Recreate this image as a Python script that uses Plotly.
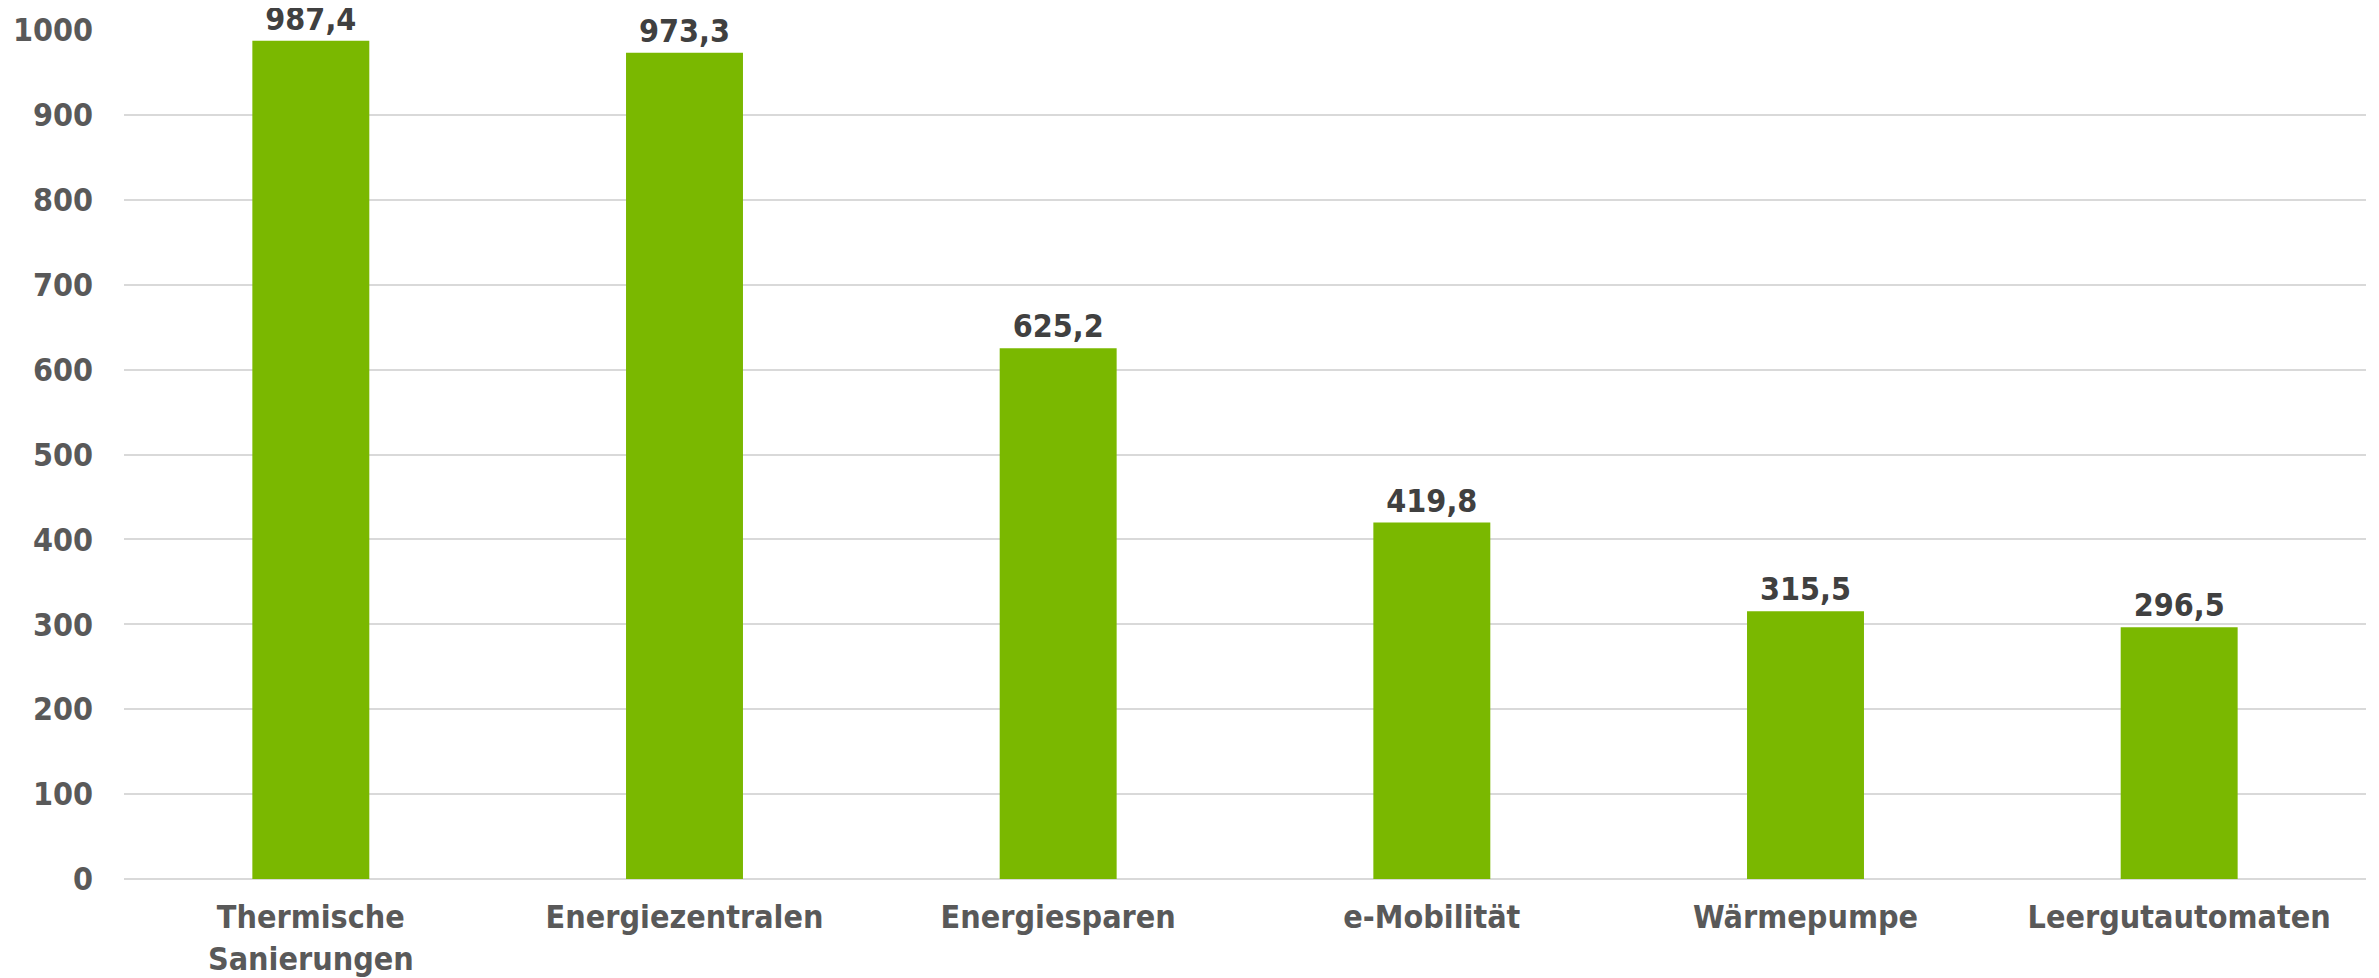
import plotly.graph_objects as go

categories = ["Thermische<br>Sanierungen", "Energiezentralen", "Energiesparen",
              "e-Mobilität", "Wärmepumpe", "Leergutautomaten"]
values = [987.4, 973.3, 625.2, 419.8, 315.5, 296.5]
y_ticks = [0, 100, 200, 300, 400, 500, 600, 700, 800, 900, 1000]

FONT = "DejaVu Sans Condensed, DejaVu Sans, sans-serif"
FS = 32

fig = go.Figure(go.Bar(
    x=categories,
    y=values,
    marker=dict(color="#7AB800", line=dict(width=0)),
    texttemplate="%{y:.1f}",
    textposition="outside",
    textfont=dict(family=FONT, size=FS, color="#404040", weight="bold"),
    cliponaxis=False,
))

fig.update_layout(
    width=2371, height=970,
    margin=dict(l=116, r=13, t=22, b=99),
    paper_bgcolor="white", plot_bgcolor="white",
    separators=",.",
    bargap=0.687,
    showlegend=False,
    font=dict(family=FONT, size=FS, color="#595959", weight="bold"),
)
fig.update_yaxes(
    range=[0, 1000], tickvals=y_ticks, automargin=False,
    showgrid=True, gridcolor="#D9D9D9", gridwidth=1.5,
    zeroline=True, zerolinecolor="#D9D9D9", zerolinewidth=1.5,
    showline=False, ticks="", ticklabelstandoff=30,
    tickfont=dict(family=FONT, size=FS, color="#595959", weight="bold"),
)
fig.update_xaxes(
    showline=False, ticks="", ticklabelstandoff=16, automargin=False,
    tickfont=dict(family=FONT, size=FS, color="#595959", weight="bold"),
)

fig.write_html("out.html")
